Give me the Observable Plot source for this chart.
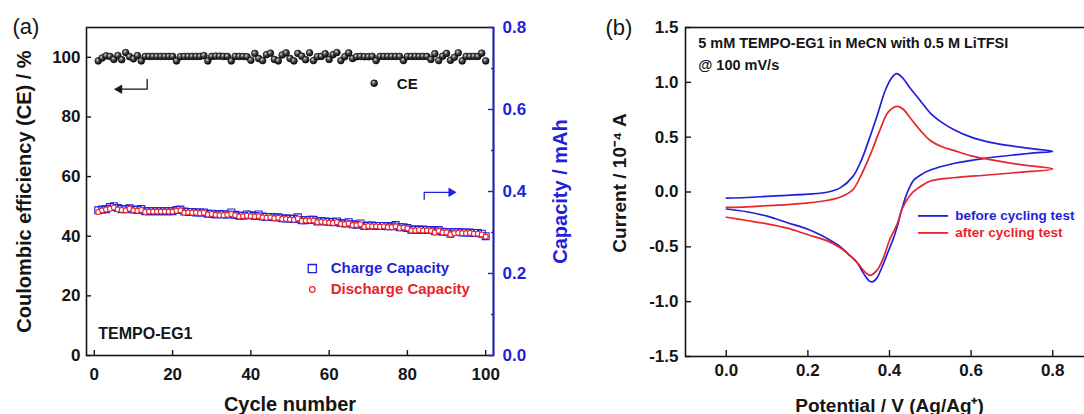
<!DOCTYPE html>
<html><head><meta charset="utf-8">
<script src="https://cdn.jsdelivr.net/npm/d3@7"></script>
<script src="https://cdn.jsdelivr.net/npm/@observablehq/plot@0.6"></script>
<style>
html,body{margin:0;padding:0;background:#fff;overflow:hidden;width:1084px;height:414px}
#wrap{position:relative;width:1084px;height:414px;overflow:hidden}
#wrap svg{position:absolute;top:0}
</style></head><body><div id="wrap"></div>
<script>
// ---------- Panel (a) data ----------
const cycles = Array.from({length: 100}, (_, i) => i + 1);
const ce = [
  98.8, 99.8, 100.5, 100.3, 99.3, 100.6, 99.2, 101.6, 100.2, 99.5,
  100.6, 98.8, 100.3, 100.3, 100.3, 100.3, 100.3, 100.3, 100.3, 100.3,
  98.8, 100.2, 100.3, 100.3, 100.3, 100.3, 100.3, 100.6, 98.8, 100.3,
  100.4, 100.4, 100.3, 100.3, 98.8, 100.3, 100.3, 100.3, 100.2, 99.0,
  101.3, 99.6, 98.9, 100.9, 101.4, 99.3, 98.8, 100.8, 101.5, 99.6,
  98.8, 101.3, 100.4, 99.2, 101.5, 98.9, 100.2, 100.3, 101.2, 99.3,
  100.9, 101.6, 98.9, 100.2, 101.5, 99.6, 100.2, 100.3, 100.2, 100.2,
  100.3, 98.9, 100.3, 100.3, 100.3, 100.3, 100.3, 100.3, 98.9, 100.3,
  100.3, 100.3, 100.3, 100.3, 100.3, 99.3, 101.2, 98.9, 100.4, 101.3,
  99.0, 100.0, 101.5, 98.8, 100.3, 100.3, 100.3, 100.3, 101.4, 98.8
];
const chargeCap = [
  0.354, 0.356, 0.357, 0.362, 0.364, 0.360, 0.357, 0.357, 0.359, 0.356,
  0.355, 0.357, 0.352, 0.352, 0.352, 0.352, 0.352, 0.352, 0.352, 0.352,
  0.355, 0.356, 0.351, 0.350, 0.350, 0.349, 0.349, 0.349, 0.346, 0.346,
  0.344, 0.345, 0.344, 0.344, 0.349, 0.343, 0.341, 0.341, 0.344, 0.342,
  0.340, 0.344, 0.339, 0.338, 0.338, 0.337, 0.337, 0.335, 0.334, 0.334,
  0.333, 0.337, 0.330, 0.330, 0.331, 0.331, 0.327, 0.328, 0.327, 0.326,
  0.325, 0.327, 0.323, 0.322, 0.325, 0.320, 0.319, 0.322, 0.316, 0.317,
  0.317, 0.316, 0.316, 0.316, 0.315, 0.315, 0.318, 0.313, 0.313, 0.311,
  0.307, 0.307, 0.307, 0.307, 0.306, 0.306, 0.303, 0.306, 0.302, 0.301,
  0.297, 0.301, 0.301, 0.300, 0.300, 0.300, 0.299, 0.299, 0.297, 0.291
];
const dischargeCap = [
  0.350, 0.354, 0.356, 0.358, 0.361, 0.356, 0.355, 0.354, 0.358, 0.354,
  0.353, 0.355, 0.350, 0.351, 0.351, 0.351, 0.351, 0.351, 0.351, 0.351,
  0.353, 0.354, 0.348, 0.349, 0.348, 0.348, 0.347, 0.348, 0.344, 0.345,
  0.343, 0.342, 0.342, 0.343, 0.345, 0.342, 0.339, 0.340, 0.341, 0.340,
  0.339, 0.340, 0.337, 0.336, 0.337, 0.335, 0.336, 0.333, 0.333, 0.332,
  0.331, 0.334, 0.328, 0.329, 0.329, 0.329, 0.325, 0.326, 0.325, 0.324,
  0.323, 0.325, 0.321, 0.320, 0.322, 0.318, 0.318, 0.320, 0.314, 0.316,
  0.315, 0.315, 0.314, 0.315, 0.313, 0.313, 0.315, 0.311, 0.312, 0.310,
  0.305, 0.305, 0.306, 0.305, 0.305, 0.304, 0.300, 0.304, 0.300, 0.300,
  0.295, 0.298, 0.299, 0.298, 0.298, 0.299, 0.297, 0.297, 0.295, 0.290
];
const cycleTicks = [0, 20, 40, 60, 80, 100];
const ceTicks = [0, 20, 40, 60, 80, 100];
const capTicks = [0, 0.2, 0.4, 0.6, 0.8];
const capMinorTicks = [0.1, 0.3, 0.5, 0.7];

// ---------- Panel (b) data: CV loops (potential V, current 1e-4 A) ----------
const beforeV = [0, 0.05, 0.1, 0.15, 0.2, 0.25, 0.28, 0.31, 0.33, 0.35, 0.37, 0.39, 0.405, 0.417, 0.43, 0.45, 0.476, 0.5, 0.53, 0.557, 0.6, 0.65, 0.7, 0.75, 0.8,
  0.75, 0.7, 0.64, 0.557, 0.5, 0.476, 0.46, 0.45, 0.44, 0.43, 0.42, 0.41, 0.395, 0.38, 0.368, 0.358, 0.35, 0.336, 0.32, 0.3, 0.28, 0.25, 0.23, 0.2, 0.15, 0.1, 0.05, 0];
const beforeI = [-0.055, -0.05, -0.04, -0.03, -0.02, 0.0, 0.04, 0.14, 0.28, 0.48, 0.7, 0.93, 1.04, 1.08, 1.05, 0.95, 0.83, 0.72, 0.63, 0.57, 0.5, 0.45, 0.42, 0.395, 0.37,
  0.355, 0.335, 0.31, 0.26, 0.2, 0.155, 0.11, 0.05, -0.04, -0.16, -0.3, -0.42, -0.56, -0.7, -0.79, -0.82, -0.81, -0.74, -0.64, -0.57, -0.5, -0.43, -0.39, -0.34, -0.28, -0.22, -0.18, -0.155];
const afterV = [0, 0.05, 0.1, 0.15, 0.2, 0.25, 0.28, 0.31, 0.33, 0.354, 0.375, 0.395, 0.41, 0.42, 0.435, 0.45, 0.476, 0.5, 0.53, 0.557, 0.6, 0.64, 0.72, 0.8,
  0.72, 0.64, 0.557, 0.5, 0.476, 0.455, 0.443, 0.43, 0.42, 0.4, 0.385, 0.37, 0.353, 0.34, 0.32, 0.3, 0.28, 0.25, 0.2, 0.15, 0.1, 0.05, 0];
const afterI = [-0.14, -0.135, -0.125, -0.115, -0.1, -0.075, -0.045, 0.02, 0.15, 0.35, 0.55, 0.72, 0.77, 0.78, 0.75, 0.68, 0.56, 0.47, 0.41, 0.38, 0.33, 0.3, 0.25, 0.21,
  0.18, 0.155, 0.13, 0.1, 0.05, -0.01, -0.07, -0.16, -0.28, -0.44, -0.6, -0.71, -0.76, -0.73, -0.64, -0.57, -0.51, -0.45, -0.39, -0.33, -0.29, -0.26, -0.23];
const potentialTicks = [0, 0.2, 0.4, 0.6, 0.8];
const currentTicks = [-1.5, -1.0, -0.5, 0, 0.5, 1.0, 1.5];

// ---------- styling ----------
const FONT = "'Liberation Sans', Arial, Helvetica, sans-serif";
const BLUE = "#1f1fdc", RED = "#e8242c", INK = "#151515";
const baseStyle = {fontFamily: FONT, fontSize: "17px", fontWeight: "bold", background: "transparent", color: INK, overflow: "visible"};

const ceRows = cycles.map((c, i) => ({c, v: ce[i]}));
const chRows = cycles.map((c, i) => ({c, v: chargeCap[i]}));
const dchRows = cycles.map((c, i) => ({c, v: dischargeCap[i]}));
const beforeRows = beforeV.map((v, i) => ({v, i: beforeI[i]}));
const afterRows = afterV.map((v, i) => ({v, i: afterI[i]}));

const dimsA = {width: 590, height: 414, marginLeft: 86, marginRight: 97, marginTop: 27, marginBottom: 59};

// Panel (a) – left axis (CE)
const a1 = Plot.plot({
  ...dimsA,
  style: baseStyle,
  x: {domain: [-2, 102]},
  y: {domain: [0, 110]},
  marks: [
    Plot.frame({stroke: INK, strokeWidth: 1.6}),
    Plot.axisX({ticks: cycleTicks, tickSize: -5, tickPadding: 17, tickFormat: d => String(d), label: null, strokeWidth: 1.4}),
    Plot.axisY({ticks: ceTicks, tickSize: -5, tickPadding: 11, tickFormat: d => String(d), label: null, strokeWidth: 1.4}),
    Plot.text(["Cycle number"], {frameAnchor: "bottom", dy: 55, lineAnchor: "bottom", textAnchor: "middle", fontSize: 20}),
    Plot.text(["Coulombic efficiency (CE) / %"], {frameAnchor: "left", rotate: -90, dx: -70, lineAnchor: "top", textAnchor: "middle", fontSize: 20}),
    Plot.text(["(a)"], {frameAnchor: "top-left", dx: -74, dy: 6, lineAnchor: "bottom", textAnchor: "start", fontSize: 22, fontWeight: "normal"}),
    Plot.dot(ceRows, {x: "c", y: "v", r: 3.4, fill: "url(#sph)", stroke: "#000", strokeWidth: 0.6}),
    // CE legend
    Plot.dot([{x: 71.5, y: 91.3}], {x: "x", y: "y", r: 3.4, fill: "url(#sph)", stroke: "#000", strokeWidth: 0.6}),
    Plot.text([{x: 77.3, y: 91.1, t: "CE"}], {x: "x", y: "y", text: "t", textAnchor: "start", fontSize: 15}),
    // left-pointing arrow (elbow + filled head)
    Plot.line([{x: 13.5, y: 92.6}, {x: 13.5, y: 89.3}, {x: 7.0, y: 89.3}], {x: "x", y: "y", stroke: INK, strokeWidth: 1.3}),
    Plot.dot([{x: 6.4, y: 89.3}], {x: "x", y: "y", symbol: "triangle", r: 3.2, rotate: -90, fill: INK, stroke: INK, strokeWidth: 0.5}),
    Plot.text([{x: 1.0, y: 7.4, t: "TEMPO-EG1"}], {x: "x", y: "y", text: "t", textAnchor: "start", fontSize: 16})
  ]
});

// Panel (a) – right axis (capacity)
const a2 = Plot.plot({
  ...dimsA,
  style: baseStyle,
  x: {domain: [-2, 102], axis: null},
  y: {domain: [0, 0.8]},
  marks: [
    Plot.ruleX([102], {stroke: BLUE, strokeWidth: 1.8}),
    Plot.axisY({anchor: "right", ticks: capTicks, tickSize: -6, tickPadding: 15, tickFormat: d => d.toFixed(1), label: null, color: BLUE, strokeWidth: 1.4}),
    Plot.axisY({anchor: "right", ticks: capMinorTicks, tickSize: -3, tickFormat: () => "", label: null, color: BLUE, strokeWidth: 1.4}),
    Plot.text(["Capacity / mAh"], {frameAnchor: "right", rotate: -90, dx: 73, lineAnchor: "bottom", textAnchor: "middle", fontSize: 20, fill: BLUE}),
    Plot.dot(chRows, {x: "c", y: "v", symbol: "square", r: 3.9, stroke: BLUE, strokeWidth: 1.1, fill: "none"}),
    Plot.dot(dchRows, {x: "c", y: "v", symbol: "circle", r: 2.5, stroke: RED, strokeWidth: 1.1, fill: "white"}),
    // legend
    Plot.dot([{x: 55.7, y: 0.212}], {x: "x", y: "y", symbol: "square", r: 4.6, stroke: BLUE, strokeWidth: 1.3, fill: "none"}),
    Plot.dot([{x: 55.7, y: 0.161}], {x: "x", y: "y", symbol: "circle", r: 2.8, stroke: RED, strokeWidth: 1.2, fill: "white"}),
    Plot.text([{x: 60.4, y: 0.212, t: "Charge Capacity"}], {x: "x", y: "y", text: "t", textAnchor: "start", fontSize: 15, fill: BLUE}),
    Plot.text([{x: 60.4, y: 0.161, t: "Discharge Capacity"}], {x: "x", y: "y", text: "t", textAnchor: "start", fontSize: 15, fill: RED}),
    // right-pointing arrow (elbow + filled head)
    Plot.line([{x: 84.3, y: 0.381}, {x: 84.3, y: 0.398}, {x: 90.6, y: 0.398}], {x: "x", y: "y", stroke: BLUE, strokeWidth: 1.3}),
    Plot.dot([{x: 91.2, y: 0.398}], {x: "x", y: "y", symbol: "triangle", r: 3.2, rotate: 90, fill: BLUE, stroke: BLUE, strokeWidth: 0.5})
  ]
});

// Panel (b) – CV
const b = Plot.plot({
  width: 510, height: 414, marginLeft: 95, marginRight: 7, marginTop: 27, marginBottom: 58,
  style: baseStyle,
  x: {domain: [-0.1, 0.9]},
  y: {domain: [-1.5, 1.5]},
  marks: [
    Plot.frame({stroke: INK, strokeWidth: 1.6}),
    Plot.axisX({ticks: potentialTicks, tickSize: -6, tickPadding: 13, tickFormat: d => d.toFixed(1), label: null, strokeWidth: 1.4}),
    Plot.axisY({ticks: currentTicks, tickSize: -6, tickPadding: 13, tickFormat: d => d.toFixed(1), label: null, strokeWidth: 1.4}),
    Plot.text(["Potential / V (Ag/Ag⁺)"], {frameAnchor: "bottom", dy: 55, lineAnchor: "bottom", textAnchor: "middle", fontSize: 19}),
    Plot.text(["Current / 10⁻⁴ A"], {frameAnchor: "left", rotate: -90, dx: -73, dy: -9, lineAnchor: "top", textAnchor: "middle", fontSize: 19}),
    Plot.text(["(b)"], {frameAnchor: "top-left", dx: -80, dy: 7, lineAnchor: "bottom", textAnchor: "start", fontSize: 22, fontWeight: "normal"}),
    Plot.line(beforeRows, {x: "v", y: "i", stroke: BLUE, strokeWidth: 1.7, curve: "catmull-rom"}),
    Plot.line(afterRows, {x: "v", y: "i", stroke: RED, strokeWidth: 1.7, curve: "catmull-rom"}),
    Plot.text([{x: -0.069, y: 1.355, t: "5 mM TEMPO-EG1 in MeCN with 0.5 M LiTFSI"}], {x: "x", y: "y", text: "t", textAnchor: "start", fontSize: 14.5}),
    Plot.text([{x: -0.069, y: 1.155, t: "@ 100 mV/s"}], {x: "x", y: "y", text: "t", textAnchor: "start", fontSize: 14.5}),
    Plot.ruleY([{y: -0.218}], {y: "y", x1: 0.471, x2: 0.545, stroke: BLUE, strokeWidth: 1.8}),
    Plot.ruleY([{y: -0.373}], {y: "y", x1: 0.471, x2: 0.545, stroke: RED, strokeWidth: 1.8}),
    Plot.text([{x: 0.561, y: -0.218, t: "before cycling test"}], {x: "x", y: "y", text: "t", textAnchor: "start", fontSize: 13.5, fill: BLUE}),
    Plot.text([{x: 0.561, y: -0.373, t: "after cycling test"}], {x: "x", y: "y", text: "t", textAnchor: "start", fontSize: 13.5, fill: RED})
  ]
});

const wrap = document.getElementById("wrap");
a1.style.left = "0px"; a2.style.left = "0px"; b.style.left = "590px";
a1.insertAdjacentHTML("afterbegin",
  '<defs><radialGradient id="sph" cx="38%" cy="35%" r="70%"><stop offset="0" stop-color="#d0d0d0"/><stop offset="0.45" stop-color="#444"/><stop offset="1" stop-color="#050505"/></radialGradient></defs>');
wrap.appendChild(a1);
wrap.appendChild(a2);
wrap.appendChild(b);
</script>
</body></html>
